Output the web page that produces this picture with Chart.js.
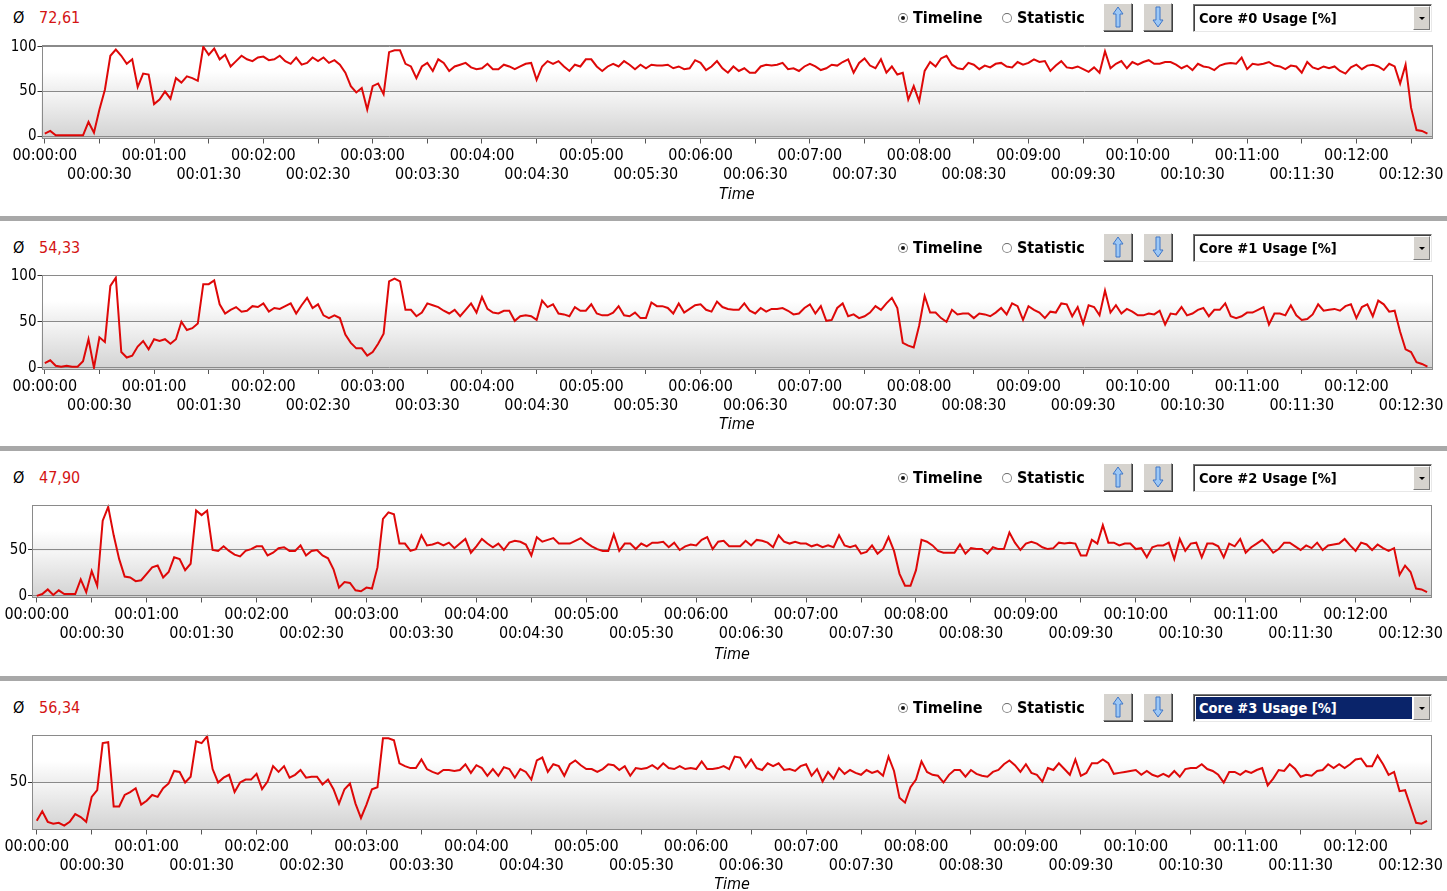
<!DOCTYPE html>
<html lang="en">
<head>
<meta charset="UTF-8" />
<title>Core Usage Timeline</title>
<script src="https://cdn.jsdelivr.net/npm/chart.js@4.4.1/dist/chart.umd.min.js"></script>
<style>
  html, body { margin: 0; padding: 0; background: #fff; }
  body { width: 1447px; height: 891px; position: relative; overflow: hidden;
         font-family: "DejaVu Sans Condensed", "DejaVu Sans", sans-serif; color: #000; }
  .panel { position: absolute; left: 0; width: 1447px; height: 230px; }
  .sep { position: absolute; left: 0; top: 216px; width: 1447px; height: 5px; background: #a8a8a8; }
  .txt { position: absolute; top: 7px; line-height: 22px; font-size: 16px; white-space: nowrap; }
  .avg { color: #d41414; }
  .bold { font-weight: bold; }
  .radio { position: absolute; top: 13px; width: 8px; height: 8px; border-radius: 50%;
           border: 1px solid #8a8a8a; border-top-color: #6a6a6a; background: #fff; }
  .radio.on::after { content: ""; position: absolute; left: 2px; top: 2px; width: 4px; height: 4px;
           border-radius: 50%; background: #111; }
  .btn { position: absolute; top: 3px; width: 27px; height: 26px; background: #d6d3ce;
         border: 1px solid; border-color: #fff #7a7a7a #7a7a7a #fff; box-shadow: 1px 1px 0 #404040;
         display: flex; align-items: center; justify-content: center; }
  .combo { position: absolute; left: 1193px; top: 4px; width: 237px; height: 26px; background: #fff;
           border: 1px solid; border-color: #7a7a7a #e8e8e8 #e8e8e8 #7a7a7a; box-shadow: inset 1px 1px 0 #404040; }
  .combo .val { position: absolute; left: 2px; top: 2px; right: 19px; height: 22px; padding-left: 3px;
           font-weight: bold; font-size: 14.5px; line-height: 22px; }
  .combo.sel .val { background: #0a246a; color: #fff; }
  .combo .arr { position: absolute; right: 1px; top: 1px; width: 15px; height: 22px; background: #d6d3ce;
           border: 1px solid; border-color: #fff #7a7a7a #7a7a7a #fff; }
  .combo .arr::after { content: ""; position: absolute; left: 5px; top: 10px; border-left: 3px solid transparent;
           border-right: 3px solid transparent; border-top: 3px solid #000; }
  canvas.plot { position: absolute; left: 0; top: 31px; }
</style>
</head>
<body>
<script>
// sampling interval of the logger, in seconds
const SAMPLE_STEP_S = 3;

const avgLabels = ['72,61', '54,33', '47,90', '56,34'];
const seriesNames = ['Core #0 Usage [%]', 'Core #1 Usage [%]', 'Core #2 Usage [%]', 'Core #3 Usage [%]'];
const tickSeconds = [0, 30, 60, 90, 120, 150, 180, 210, 240, 270, 300, 330, 360, 390, 420, 450, 480, 510,
                     540, 570, 600, 630, 660, 690, 720, 750];

const core0Usage = [
  3, 6, 1, 1, 1, 1, 1, 1, 16, 4,
  30, 52, 90, 97, 90, 81, 86, 55, 70, 69,
  36, 41, 50, 42, 65, 60, 67, 65, 62, 100,
  91, 98, 86, 91, 78, 84, 90, 86, 84, 88,
  89, 85, 86, 90, 84, 81, 88, 80, 82, 88,
  84, 88, 82, 85, 80, 71, 56, 49, 54, 30,
  56, 59, 47, 94, 96, 96, 81, 78, 65, 78,
  82, 73, 86, 82, 73, 78, 80, 82, 77, 75,
  76, 81, 75, 75, 80, 78, 75, 78, 81, 82,
  63, 78, 84, 81, 84, 78, 73, 80, 78, 86,
  86, 78, 73, 78, 81, 78, 84, 80, 75, 80,
  76, 80, 79, 79, 80, 76, 78, 75, 76, 85,
  82, 74, 78, 84, 76, 71, 78, 73, 76, 71,
  71, 78, 80, 79, 80, 82, 75, 76, 73, 78,
  81, 78, 74, 76, 80, 79, 83, 86, 71, 82,
  87, 79, 76, 86, 71, 78, 69, 71, 41, 56,
  39, 73, 83, 78, 87, 90, 80, 76, 75, 82,
  80, 75, 79, 77, 81, 82, 78, 77, 83, 80,
  82, 86, 83, 84, 73, 79, 84, 77, 76, 78,
  75, 72, 77, 71, 95, 76, 81, 84, 76, 83,
  80, 83, 85, 81, 81, 83, 83, 80, 76, 79,
  74, 81, 78, 77, 74, 79, 81, 82, 81, 88,
  75, 81, 80, 81, 83, 79, 78, 75, 79, 78,
  71, 83, 77, 75, 78, 76, 78, 73, 70, 77,
  80, 75, 79, 80, 78, 74, 81, 78, 59, 80,
  32, 7, 6, 3
];

const core1Usage = [
  5, 8, 2, 1, 2, 1, 1, 7, 31, 0,
  33, 28, 89, 98, 17, 11, 13, 23, 29, 20,
  31, 29, 31, 26, 31, 50, 41, 43, 48, 91,
  91, 95, 69, 59, 63, 66, 61, 62, 67, 66,
  70, 61, 65, 64, 67, 70, 59, 68, 76, 65,
  69, 57, 54, 57, 54, 36, 27, 21, 21, 13,
  17, 26, 37, 94, 97, 94, 63, 63, 56, 60,
  70, 68, 66, 62, 59, 63, 56, 63, 70, 60,
  77, 64, 60, 59, 62, 62, 51, 56, 57, 56,
  52, 73, 66, 69, 59, 58, 56, 66, 62, 62,
  69, 59, 57, 57, 60, 67, 57, 56, 60, 54,
  54, 71, 67, 67, 65, 59, 70, 60, 64, 68,
  69, 63, 61, 72, 66, 64, 63, 63, 70, 62,
  59, 65, 61, 64, 64, 65, 62, 58, 59, 65,
  69, 59, 67, 51, 52, 65, 70, 56, 58, 54,
  56, 60, 67, 63, 70, 76, 65, 27, 24, 22,
  46, 78, 60, 60, 54, 50, 63, 58, 59, 59,
  54, 59, 58, 56, 60, 65, 58, 70, 67, 52,
  67, 63, 60, 54, 61, 60, 70, 69, 56, 66,
  48, 68, 66, 57, 84, 60, 68, 59, 64, 61,
  57, 57, 59, 58, 62, 47, 59, 58, 66, 57,
  59, 63, 65, 56, 63, 63, 70, 56, 54, 56,
  60, 60, 63, 66, 47, 59, 59, 57, 68, 57,
  52, 53, 58, 69, 62, 63, 64, 62, 67, 69,
  54, 66, 69, 56, 73, 69, 61, 62, 39, 20,
  17, 6, 4, 1
];

const core2Usage = [
  0, 2, 7, 1, 6, 2, 2, 2, 18, 4,
  27, 11, 82, 97, 66, 40, 21, 20, 16, 17,
  24, 31, 33, 20, 26, 42, 40, 28, 35, 93,
  88, 93, 50, 49, 54, 49, 45, 43, 49, 51,
  54, 54, 44, 47, 52, 53, 49, 49, 55, 44,
  49, 50, 44, 41, 29, 9, 15, 14, 6, 5,
  9, 8, 31, 84, 91, 89, 57, 57, 49, 51,
  66, 55, 56, 58, 55, 58, 52, 57, 62, 47,
  54, 62, 57, 53, 57, 50, 58, 60, 59, 56,
  44, 64, 59, 61, 63, 57, 57, 57, 60, 63,
  58, 54, 51, 49, 49, 67, 49, 57, 57, 51,
  57, 54, 58, 58, 59, 53, 58, 50, 54, 56,
  55, 61, 64, 51, 59, 60, 54, 54, 54, 60,
  55, 61, 60, 58, 53, 66, 59, 57, 59, 57,
  57, 54, 56, 53, 55, 53, 66, 55, 53, 55,
  46, 48, 55, 46, 51, 64, 49, 24, 11, 11,
  28, 61, 59, 55, 49, 47, 47, 47, 56, 46,
  52, 51, 51, 46, 53, 51, 51, 69, 58, 50,
  57, 59, 57, 53, 51, 52, 58, 57, 58, 57,
  44, 44, 61, 57, 77, 58, 58, 55, 57, 57,
  51, 52, 42, 53, 55, 55, 58, 40, 62, 49,
  57, 58, 42, 57, 57, 54, 42, 57, 54, 62,
  47, 53, 57, 61, 55, 47, 51, 58, 58, 54,
  50, 55, 52, 58, 50, 55, 56, 57, 62, 55,
  49, 58, 56, 50, 56, 52, 49, 52, 23, 33,
  26, 8, 7, 4
];

const core3Usage = [
  10, 20, 9, 7, 8, 5, 9, 17, 14, 9,
  35, 42, 91, 92, 25, 25, 37, 40, 44, 27,
  31, 37, 35, 44, 49, 62, 61, 50, 56, 93,
  91, 98, 64, 50, 55, 58, 40, 50, 53, 53,
  59, 43, 51, 67, 61, 67, 55, 58, 63, 55,
  56, 56, 48, 53, 43, 28, 43, 49, 28, 13,
  27, 43, 45, 96, 96, 94, 70, 67, 65, 65,
  74, 64, 61, 59, 63, 63, 62, 63, 69, 60,
  68, 65, 57, 64, 57, 66, 64, 55, 64, 61,
  53, 73, 76, 61, 69, 67, 57, 69, 73, 68,
  64, 64, 61, 64, 69, 68, 63, 67, 57, 65,
  64, 65, 68, 64, 70, 65, 64, 67, 64, 65,
  64, 72, 64, 64, 65, 67, 64, 77, 76, 66,
  74, 65, 63, 70, 67, 70, 63, 64, 62, 67,
  69, 57, 64, 51, 61, 54, 65, 59, 63, 60,
  58, 63, 60, 62, 57, 77, 62, 34, 29, 45,
  53, 72, 61, 58, 57, 50, 58, 63, 63, 56,
  63, 59, 57, 56, 61, 63, 69, 73, 68, 61,
  69, 60, 58, 51, 65, 63, 70, 64, 58, 74,
  57, 60, 70, 70, 74, 70, 59, 60, 61, 62,
  63, 58, 62, 58, 56, 59, 56, 62, 56, 64,
  65, 65, 69, 64, 62, 58, 50, 61, 61, 58,
  62, 60, 63, 65, 47, 54, 63, 62, 69, 64,
  56, 58, 57, 62, 63, 69, 65, 69, 65, 69,
  74, 75, 67, 67, 78, 69, 58, 61, 41, 42,
  25, 8, 7, 10
];

const sampleTimes = core0Usage.map((_, i) => i * SAMPLE_STEP_S);

// layout of the four stacked panels (px inside each canvas)
const CANVAS_H = 186;
const panels = [
  { values: core0Usage, yMin: -2.5, yMax: 102,   yTicks: [0, 50, 100], yAxisW: 41.5, tMin: -1.8, tMax: 761.5, top: 14,   bottom: 107.5, selected: false },
  { values: core1Usage, yMin: -1.5, yMax: 101.5, yTicks: [0, 50, 100], yAxisW: 41.5, tMin: -1.8, tMax: 761.5, top: 13.5, bottom: 108,   selected: false },
  { values: core2Usage, yMin: -1.8, yMax: 99.6,  yTicks: [0, 50],      yAxisW: 32,   tMin: -2.6, tMax: 761.7, top: 13.5, bottom: 106.5, selected: false },
  { values: core3Usage, yMin: 1,    yMax: 100,   yTicks: [50],         yAxisW: 32,   tMin: -2.6, tMax: 761.7, top: 13.5, bottom: 108.5, selected: true }
];

const FONT = '"DejaVu Sans Condensed", "DejaVu Sans", sans-serif';

function hms(s) {
  const m = Math.floor(s / 60), sec = s % 60;
  return '00:' + String(m).padStart(2, '0') + ':' + String(sec).padStart(2, '0');
}

const upArrow = '<svg width="12" height="22" viewBox="0 0 12 22"><path d="M6 1 L11 8 L8 8 L8 21 L4 21 L4 8 L1 8 Z" fill="#9cc8f6" stroke="#3f76c8" stroke-width="1"/></svg>';
const downArrow = '<svg width="12" height="22" viewBox="0 0 12 22"><path d="M6 21 L11 14 L8 14 L8 1 L4 1 L4 14 L1 14 Z" fill="#9cc8f6" stroke="#3f76c8" stroke-width="1"/></svg>';

const plotFrame = {
  id: 'plotFrame',
  beforeDraw(chart) {
    const { ctx, chartArea: a } = chart;
    const g = ctx.createLinearGradient(0, a.top, 0, a.bottom);
    g.addColorStop(0, '#ffffff');
    g.addColorStop(0.28, '#ffffff');
    g.addColorStop(0.5, '#eeeeee');
    g.addColorStop(0.501, '#f6f6f6');
    g.addColorStop(1, '#d2d2d2');
    ctx.save();
    ctx.fillStyle = g;
    ctx.fillRect(a.left, a.top, a.right - a.left, a.bottom - a.top);
    ctx.restore();
  },
  afterDraw(chart) {
    const { ctx, chartArea: a } = chart;
    ctx.save();
    ctx.strokeStyle = '#8a8a8a';
    ctx.lineWidth = 1;
    ctx.strokeRect(Math.round(a.left) + 0.5, Math.round(a.top) + 0.5,
                   Math.round(a.right - a.left) - 1, Math.round(a.bottom - a.top) - 1);
    ctx.restore();
  }
};

panels.forEach((p, k) => {
  const div = document.createElement('div');
  div.className = 'panel';
  div.style.top = (k * 230) + 'px';
  div.innerHTML =
    '<div class="txt" style="left:13px">Ø</div>' +
    '<div class="txt avg" style="left:39px">' + avgLabels[k] + '</div>' +
    '<div class="radio on" style="left:898px"></div>' +
    '<div class="txt bold" style="left:913px">Timeline</div>' +
    '<div class="radio" style="left:1002px"></div>' +
    '<div class="txt bold" style="left:1017px">Statistic</div>' +
    '<div class="btn" style="left:1103px">' + upArrow + '</div>' +
    '<div class="btn" style="left:1143px">' + downArrow + '</div>' +
    '<div class="combo' + (p.selected ? ' sel' : '') + '"><div class="val">' + seriesNames[k] + '</div><div class="arr"></div></div>' +
    (k < 3 ? '<div class="sep"></div>' : '');
  const cv = document.createElement('canvas');
  cv.className = 'plot';
  cv.width = 1447;
  cv.height = CANVAS_H;
  cv.style.width = '1447px';
  cv.style.height = CANVAS_H + 'px';
  div.insertBefore(cv, div.firstChild);
  document.body.appendChild(div);

  new Chart(cv.getContext('2d'), {
    type: 'line',
    data: {
      datasets: [{
        label: seriesNames[k],
        data: p.values.map((v, i) => ({ x: sampleTimes[i], y: v })),
        borderColor: 'rgb(222, 8, 8)',
        borderWidth: 2,
        pointRadius: 0,
        tension: 0,
        fill: false
      }]
    },
    options: {
      responsive: false,
      animation: false,
      devicePixelRatio: 1,
      layout: { padding: { top: p.top, right: 15, left: 0, bottom: 0 } },
      plugins: { legend: { display: false }, tooltip: { enabled: false } },
      scales: {
        x: {
          type: 'linear',
          min: p.tMin,
          max: p.tMax,
          afterBuildTicks: s => { s.ticks = tickSeconds.map(v => ({ value: v })); },
          afterFit: s => { s.height = CANVAS_H - p.bottom; },
          border: { display: false },
          grid: { drawOnChartArea: false, drawTicks: true, tickLength: 5, color: '#555' },
          ticks: {
            autoSkip: false, maxRotation: 0, minRotation: 0, padding: 3, color: '#000',
            font: { family: FONT, size: 16, lineHeight: '19px' },
            callback: (v, i) => (i % 2 ? ['', hms(v)] : hms(v))
          },
          title: {
            display: true, text: 'Time', color: '#000',
            font: { family: FONT, size: 16, style: 'italic', lineHeight: '18px' },
            padding: { top: 0, bottom: 13 }
          }
        },
        y: {
          min: p.yMin,
          max: p.yMax,
          afterBuildTicks: s => { s.ticks = p.yTicks.map(v => ({ value: v })); },
          afterFit: s => { s.width = p.yAxisW; },
          border: { display: false },
          grid: { color: '#8a8a8a', tickColor: '#333', tickLength: 4, drawTicks: true },
          ticks: { padding: 1, color: '#000', font: { family: FONT, size: 15 } }
        }
      }
    },
    plugins: [plotFrame]
  });
});
</script>
</body>
</html>
